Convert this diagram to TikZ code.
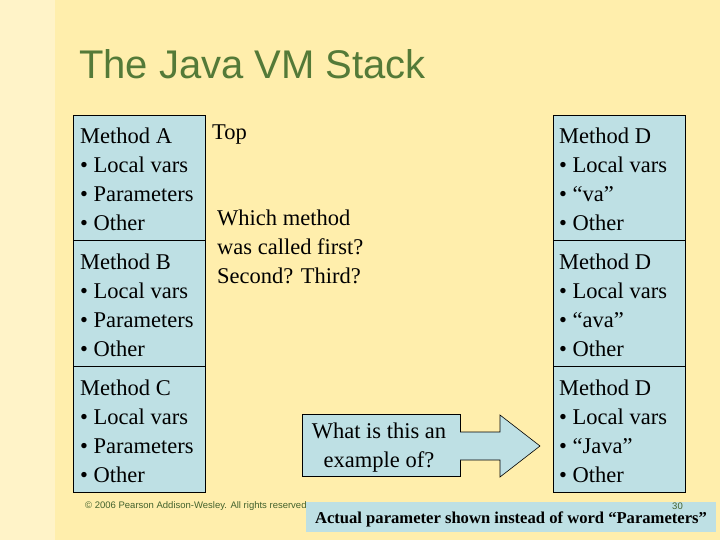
\documentclass[tikz,border=0pt]{standalone}
\usepackage{fontspec}
\setmainfont{Liberation Serif}
\newfontfamily\arial{Liberation Sans}
\definecolor{bg}{RGB}{255,238,172}
\definecolor{boxc}{RGB}{190,224,228}
\definecolor{ttl}{RGB}{84,122,56}
\tikzset{x=1pt,y=-1pt,
 frame/.style={draw=black,fill=boxc,line width=0.8pt},
 btext/.style={anchor=north west,align=left,font=\fontsize{22.5}{29}\selectfont,inner sep=0pt}}
\begin{document}
\begin{tikzpicture}
\useasboundingbox (0,0) rectangle (720,540);
\fill[bg] (0,0) rectangle (720,540);
\fill[white,opacity=0.35] (0,0) rectangle (55,540);
\node[anchor=west,font=\arial\fontsize{40}{42}\selectfont,text=ttl,inner sep=0pt] (title) at (79,64) {The Java VM Stack};
% left
\draw[frame] (73,115) rectangle (205,240) node[pos=0] (a) {};
\draw[frame] (73,240) rectangle (205,366) node[pos=0] (b) {};
\draw[frame] (73,366) rectangle (205,492) node[pos=0] (c) {};
\node[btext] (at) at (80,128) {Method A\\ \textbullet\ Local vars\\ \textbullet\ Parameters\\ \textbullet\ Other};
\node[btext] (bt) at (80,254) {Method B\\ \textbullet\ Local vars\\ \textbullet\ Parameters\\ \textbullet\ Other};
\node[btext] (ct) at (80,380) {Method C\\ \textbullet\ Local vars\\ \textbullet\ Parameters\\ \textbullet\ Other};
% right
\draw[frame] (553,115) rectangle (685,240) node[pos=0] (d1) {};
\draw[frame] (553,240) rectangle (685,366) node[pos=0] (d2) {};
\draw[frame] (553,366) rectangle (685,492) node[pos=0] (d3) {};
\node[btext] (d1t) at (559,128) {Method D\\ \textbullet\ Local vars\\ \textbullet\ ``va''\\ \textbullet\ Other};
\node[btext] (d2t) at (559,254) {Method D\\ \textbullet\ Local vars\\ \textbullet\ ``ava''\\ \textbullet\ Other};
\node[btext] (d3t) at (559,380) {Method D\\ \textbullet\ Local vars\\ \textbullet\ ``Java''\\ \textbullet\ Other};
% middle
\node[btext] (top) at (212,125) {Top};
\node[btext] (which) at (217,210) {Which method\\ was called first?\\ Second? Third?};
\draw[frame] (302,414) rectangle (460,476) node[pos=0] (q) {};
\node[align=center,font=\fontsize{22.5}{29}\selectfont,inner sep=0pt] (qt) at (379,448) {What is this an\\ example of?};
\draw[frame,line width=0.6pt] (460,432) -- (500,432) -- (500,415) -- (540,446) -- (500,477) -- (500,460) -- (460,460);
% footer
\fill[boxc] (306,502) rectangle (716,532);
\node[anchor=west,font=\arial\fontsize{9.5}{11}\selectfont,text=ttl!80!black,inner sep=0pt] (copy) at (85,506) {\copyright{} 2006 Pearson Addison-Wesley. All rights reserved};
\node[anchor=east,font=\arial\fontsize{9.5}{11}\selectfont,text=ttl!80!black,inner sep=0pt] (num) at (683,506) {30};
\node[font=\bfseries\fontsize{16.6}{19}\selectfont,inner sep=0pt] (act) at (511,519) {Actual parameter shown instead of word ``Parameters''};
\end{tikzpicture}
\end{document}
